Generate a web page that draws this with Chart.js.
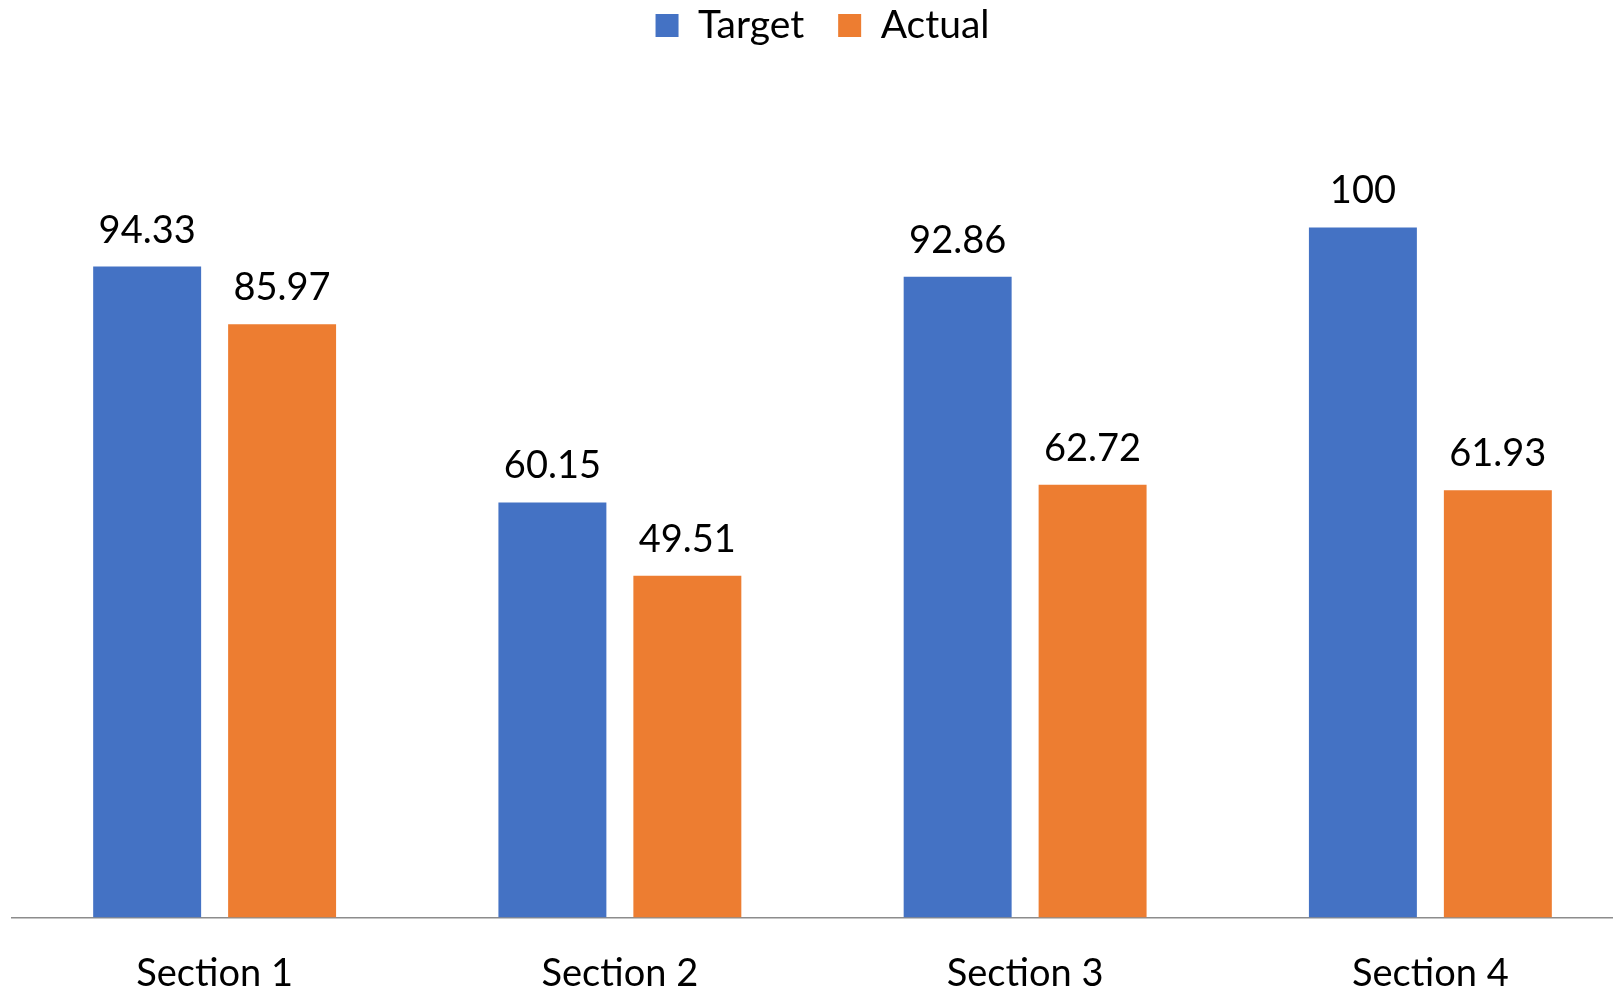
<!DOCTYPE html>
<html>
<head>
<meta charset="utf-8">
<script src="https://cdn.jsdelivr.net/npm/chart.js@4.4.1/dist/chart.umd.min.js"></script>
<style>
  html, body { margin: 0; padding: 0; background: #ffffff; overflow: hidden; }
  #wrap { width: 1672px; height: 993px; }
</style>
</head>
<body>
<div id="wrap"><canvas id="c" width="1672" height="993"></canvas></div>
<script>
const categories = ["Section 1", "Section 2", "Section 3", "Section 4"];
const seriesNames = ["Target", "Actual"];
const targetValues = [94.33, 60.15, 92.86, 100];
const actualValues = [85.97, 49.51, 62.72, 61.93];
const seriesColors = ["#4472C4", "#ED7D31"];

const FONT = "Lato, 'Open Sans', sans-serif";

const valueLabels = {
  id: 'valueLabels',
  afterDatasetsDraw(chart) {
    const ctx = chart.ctx;
    ctx.save();
    ctx.fillStyle = '#000000';
    ctx.font = "38px " + FONT;
    ctx.textAlign = 'center';
    ctx.textBaseline = 'alphabetic';
    chart.data.datasets.forEach((ds, i) => {
      const meta = chart.getDatasetMeta(i);
      meta.data.forEach((bar, j) => {
        ctx.fillText(String(ds.data[j]), bar.x, bar.y - 24);
      });
    });
    ctx.restore();
  }
};

new Chart(document.getElementById('c'), {
  type: 'bar',
  data: {
    labels: categories,
    datasets: [
      { label: seriesNames[0], data: targetValues, backgroundColor: seriesColors[0] },
      { label: seriesNames[1], data: actualValues, backgroundColor: seriesColors[1] }
    ]
  },
  options: {
    responsive: false,
    devicePixelRatio: 1,
    animation: false,
    layout: { padding: { left: 12, right: 39, top: -28, bottom: -38 } },
    categoryPercentage: 0.666,
    barPercentage: 0.8,
    plugins: {
      tooltip: { enabled: false },
      legend: {
        position: 'top',
        labels: {
          boxWidth: 23, boxHeight: 23, padding: 34,
          color: '#000000',
          font: { family: FONT, size: 39 }
        }
      }
    },
    scales: {
      x: {
        grid: { display: false, drawTicks: false },
        border: { display: true, color: '#8c8c8c', width: 1.5 },
        ticks: { color: '#000000', font: { family: FONT, size: 38 }, padding: 34 }
      },
      y: {
        display: false,
        min: 0,
        max: 125,
        grid: { display: false }
      }
    }
  },
  plugins: [valueLabels]
});
</script>
</body>
</html>
